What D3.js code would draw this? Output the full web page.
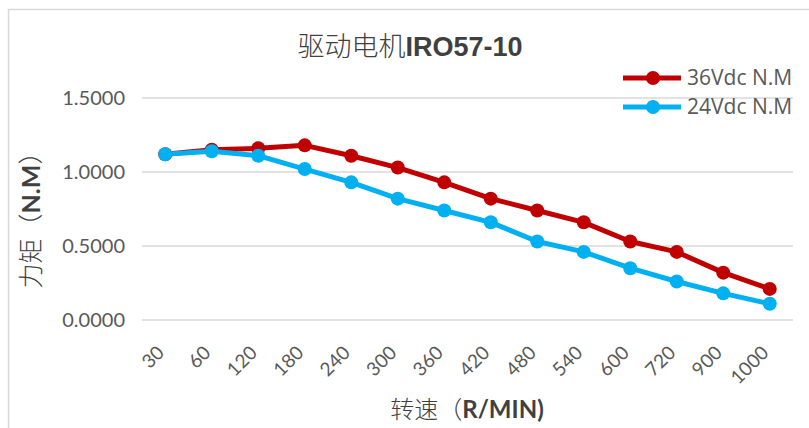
<!DOCTYPE html>
<html><head><meta charset="utf-8">
<script src="https://cdn.jsdelivr.net/npm/d3@7"></script>
<style>body{margin:0;background:#fff}svg{display:block}</style>
</head><body>
<svg id="c" width="809" height="428"></svg>
<script>
const categories = ["30","60","120","180","240","300","360","420","480","540","600","720","900","1000"];
const series36 = [1.12,1.15,1.16,1.18,1.11,1.03,0.93,0.82,0.74,0.66,0.53,0.46,0.32,0.21];
const series24 = [1.12,1.14,1.11,1.02,0.93,0.82,0.74,0.66,0.53,0.46,0.35,0.26,0.18,0.11];
const yTicks = [0,0.5,1.0,1.5];
const seriesNames = ["36Vdc N.M","24Vdc N.M"];
const colors = ["#C00000","#00B0F0"];

const svg = d3.select("#c");
const latin = "Lato, 'Noto Sans CJK SC', sans-serif";
svg.append("rect").attr("x",8.5).attr("y",9.5).attr("width",820).attr("height",440)
  .attr("fill","none").attr("stroke","#d9d9d9").attr("stroke-width",1.5);

const x = d3.scaleBand().domain(categories).range([142,793]);
const y = d3.scaleLinear().domain([0,1.5]).range([320,98]);

// gridlines
svg.append("g").selectAll("line").data(yTicks).join("line")
  .attr("x1",142).attr("x2",793).attr("y1",d=>y(d)).attr("y2",d=>y(d))
  .attr("stroke","#d9d9d9").attr("stroke-width",1.3);

// y axis labels
const yAxis = d3.axisLeft(y).tickValues(yTicks).tickFormat(d3.format(".4f")).tickSize(0).tickPadding(0);
const ga = svg.append("g").attr("transform","translate(125,0)").call(yAxis);
ga.select(".domain").remove();
ga.selectAll("text").attr("font-family",latin).attr("font-size",20).attr("fill","#595959");

// x axis labels
const xAxis = d3.axisBottom(x).tickSize(0).tickPadding(0);
const gx = svg.append("g").attr("transform","translate(0,320)").call(xAxis);
gx.select(".domain").remove();
gx.selectAll("text").attr("font-family",latin).attr("font-size",19).attr("fill","#595959")
  .attr("text-anchor","end").attr("dy",null).attr("y",0)
  .attr("transform","translate(0,34) rotate(-45)");

// lines
const allSeries = [series36, series24];
const line = d3.line().x((d,i)=>x(categories[i])+x.bandwidth()/2).y(d=>y(d));
[0,1].forEach(k=>{
  const g = svg.append("g");
  g.append("path").attr("d",line(allSeries[k])).attr("fill","none")
    .attr("stroke",colors[k]).attr("stroke-width",5).attr("stroke-linejoin","round");
  g.selectAll("circle").data(allSeries[k]).join("circle")
    .attr("cx",(d,i)=>x(categories[i])+x.bandwidth()/2).attr("cy",d=>y(d)).attr("r",7)
    .attr("fill",colors[k]);
});

// legend
seriesNames.forEach((n,k)=>{
  const ly = 78 + k*29;
  svg.append("line").attr("x1",623).attr("x2",681).attr("y1",ly).attr("y2",ly)
    .attr("stroke",colors[k]).attr("stroke-width",5);
  svg.append("circle").attr("cx",653).attr("cy",ly).attr("r",7).attr("fill",colors[k]);
  svg.append("text").attr("x",687).attr("y",ly+7).text(n)
    .attr("font-family","'Open Sans', sans-serif").attr("font-size",21).attr("fill","#595959");
});

// title
const t = svg.append("text").attr("x",410).attr("y",56).attr("text-anchor","middle")
  .attr("font-family","'Liberation Sans','Noto Sans CJK SC',sans-serif").attr("font-size",27).attr("fill","#404040");
t.append("tspan").text("驱动电机").attr("font-family","'Noto Sans CJK SC',sans-serif").attr("font-weight",300);
t.append("tspan").text("IRO57-10").attr("font-weight","bold");

// x title
const xt = svg.append("text").attr("x",467).attr("y",418).attr("text-anchor","middle")
  .attr("font-size",24).attr("fill","#404040").attr("font-family","'Noto Sans CJK SC',sans-serif");
xt.append("tspan").text("转速（").attr("font-weight",300);
xt.append("tspan").text("R/MIN)").attr("font-weight","bold").attr("font-family","Lato, sans-serif");

// y title
const yt = svg.append("text").attr("transform","translate(40,214) rotate(-90)").attr("text-anchor","middle")
  .attr("font-size",25).attr("fill","#404040").attr("font-family","'Noto Sans CJK SC',sans-serif");
yt.append("tspan").text("力矩（").attr("font-weight",300);
yt.append("tspan").text("N.M").attr("font-weight","bold").attr("font-family","Lato, sans-serif");
yt.append("tspan").text("）").attr("font-weight",300);
</script>
</body></html>
